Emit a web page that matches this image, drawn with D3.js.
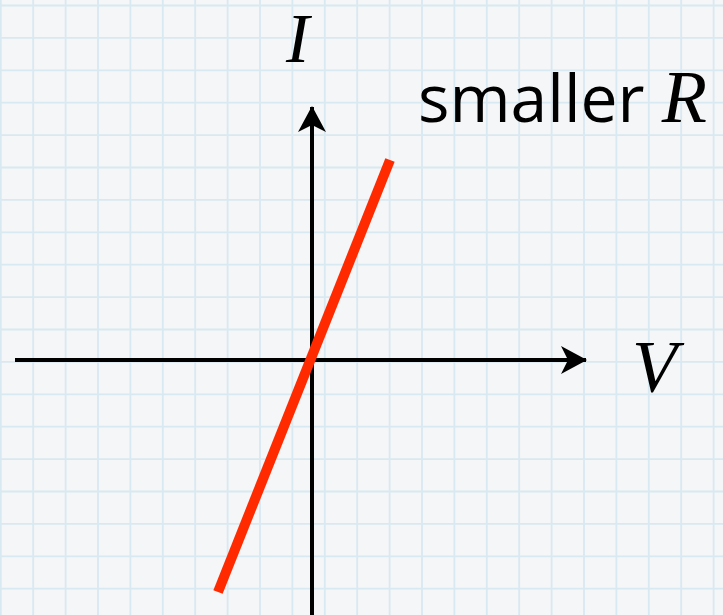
<!DOCTYPE html>
<html>
  <head>
    <meta charset="utf-8" />
    <title>I-V line</title>
    <script src="https://d3js.org/d3.v7.min.js"></script>
    <style>
        body { margin:0; background:#f5f6f7; }
    </style>
  </head>
  <body>
    <svg id="viz"></svg>
    <script>
    var width = 723;
    var height = 615;

    // data (1 unit = 100px, origin at the axes crossing)
    var lineV = [-0.94, 0.78];
    var lineI = [-2.32, 2.0];
    var vAxisExtent = [-2.97, 2.78];
    var iAxisExtent = [-2.6, 2.57];
    var labels = ["I", "V"];
    var curveLabel = ["smaller ", "R"];

    var x = d3.scaleLinear().domain([-3.12, 4.11]).range([0, width]);
    var y = d3.scaleLinear().domain([-2.55, 3.6]).range([height, 0]);

    var svg = d3.select("#viz")
      .attr("width", width)
      .attr("height", height);

    svg.append("rect")
      .attr("width", width)
      .attr("height", height)
      .attr("fill", "#f5f6f7");

    // graph paper
    var step = 32.4;
    var grid = svg.append("g").attr("stroke", "#d8e9f1").attr("stroke-width", 1.8);
    grid.selectAll("line.v")
      .data(d3.range(0.8, width, step))
      .enter().append("line")
      .attr("x1", d => d).attr("x2", d => d)
      .attr("y1", 0).attr("y2", height);
    grid.selectAll("line.h")
      .data(d3.range(5.5, height, step))
      .enter().append("line")
      .attr("y1", d => d).attr("y2", d => d)
      .attr("x1", 0).attr("x2", width);

    svg.append("defs").append("marker")
      .attr("id", "arrow")
      .attr("viewBox", "0 0 26 28")
      .attr("refX", 25).attr("refY", 14)
      .attr("markerUnits", "userSpaceOnUse")
      .attr("markerWidth", 26).attr("markerHeight", 28)
      .attr("orient", "auto")
      .append("path")
      .attr("d", "M0,0 L26,14 L0,28 L7,14 Z")
      .attr("fill", "#000");

    // axes
    svg.append("line")
      .attr("x1", x(vAxisExtent[0])).attr("x2", x(vAxisExtent[1]) - 4)
      .attr("y1", y(0)).attr("y2", y(0))
      .attr("stroke", "#000").attr("stroke-width", 4)
      .attr("marker-end", "url(#arrow)");
    svg.append("line")
      .attr("x1", x(0)).attr("x2", x(0))
      .attr("y1", y(iAxisExtent[0])).attr("y2", y(iAxisExtent[1]) + 4)
      .attr("stroke", "#000").attr("stroke-width", 4)
      .attr("marker-end", "url(#arrow)");

    // the red line
    svg.append("path")
      .datum(d3.zip(lineV, lineI))
      .attr("d", d3.line().x(d => x(d[0])).y(d => y(d[1])))
      .attr("stroke", "#ff2a00")
      .attr("stroke-width", 10)
      .attr("fill", "none");

    // labels
    svg.append("text")
      .attr("x", 286).attr("y", 62)
      .attr("font-family", "Liberation Serif")
      .attr("font-style", "italic")
      .attr("font-size", 70)
      .text(labels[0]);

    svg.append("text")
      .attr("x", 632).attr("y", 392)
      .attr("font-family", "Liberation Serif")
      .attr("font-style", "italic")
      .attr("font-size", 74)
      .text(labels[1]);

    var t = svg.append("text")
      .attr("x", 418).attr("y", 122)
      .attr("font-size", 66);
    t.append("tspan")
      .attr("font-family", "Open Sans")
      .attr("xml:space", "preserve")
      .text(curveLabel[0]);
    t.append("tspan")
      .attr("font-family", "Liberation Serif")
      .attr("font-style", "italic")
      .attr("font-size", 74)
      .text(curveLabel[1]);
    </script>
  </body>
</html>
